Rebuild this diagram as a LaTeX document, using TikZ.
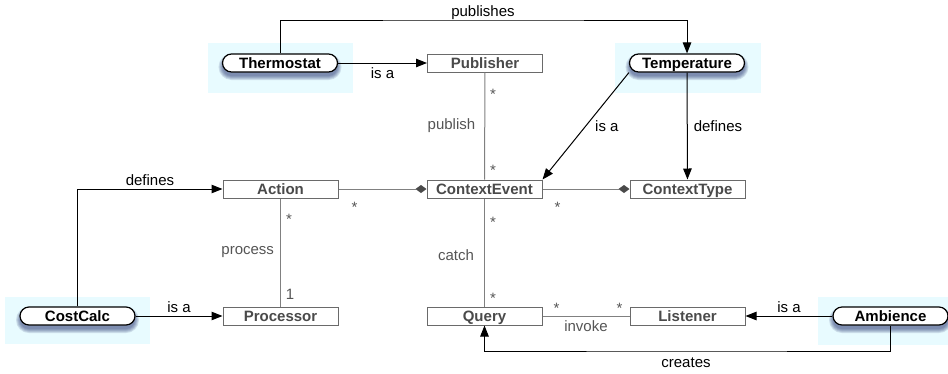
\documentclass[tikz,border=0pt]{standalone}
\usepackage{fontspec}
\setmainfont{Liberation Sans}
\usetikzlibrary{arrows.meta,calc,positioning,shapes.misc}
\definecolor{clsb}{HTML}{6A6A6A}
\definecolor{clst}{HTML}{4A4A4A}
\definecolor{glc}{HTML}{808080}
\definecolor{glt}{HTML}{555555}
\definecolor{dgc}{HTML}{4A4A4A}
\definecolor{hlc}{HTML}{E8FBFF}
\definecolor{shc}{HTML}{22306E}
\newcommand{\pillshade}[1]{%
  \foreach \e in {1,...,5}{%
    \node[rounded rectangle, fill=shc, opacity=0.14, draw=none, inner sep=0pt,
      minimum width={113pt+2*\e pt}, minimum height={16pt+2*\e pt}] at ($(#1)+(0,4)$) {};
  }%
}
\begin{document}
\begin{tikzpicture}[x=1pt,y=-1pt,
  cls/.style={draw=clsb, line width=1pt, fill=white, minimum width=115pt, minimum height=18pt, inner sep=0pt, text height=11pt, text depth=0pt, text=clst, font=\fontsize{15}{18}\selectfont\bfseries},
  pill/.style={draw=black, line width=1.2pt, fill=white, rounded corners=9pt, minimum width=115pt, minimum height=18pt, inner sep=0pt, text height=11pt, text depth=0pt, font=\fontsize{15}{18}\selectfont\bfseries},
  arr/.style={draw=black, line width=1pt, -{Triangle[length=11pt,width=8.5pt]}},
  gline/.style={draw=glc, line width=1pt},
  comp/.style={gline, -{Diamond[length=11pt,width=8pt,color=dgc,fill=dgc]}},
  lbl/.style={font=\fontsize{15}{18}\selectfont, inner sep=0pt},
  glbl/.style={lbl, text=glt},
  mult/.style={font=\fontsize{15}{18}\selectfont, text=glt, inner sep=0pt, yshift=-3.5pt},
  one/.style={font=\fontsize{15}{18}\selectfont, text=glt, inner sep=0pt},
  hl/.style={fill=hlc, draw=none}]
\useasboundingbox (0,0) rectangle (948,373);
% highlight areas
\fill[hl] (208,43) rectangle (353,93);
\fill[hl] (615,43) rectangle (761,93);
\fill[hl] (5,297) rectangle (150,344);
\fill[hl] (818,297) rectangle (948,345);
% class boxes
\node[cls] (Publisher) at (485,63) {Publisher};
\node[cls] (Action) at (280.5,189) {Action};
\node[cls] (ContextEvent) at (484.5,189) {ContextEvent};
\node[cls] (ContextType) at (687.5,189) {ContextType};
\node[cls] (Processor) at (280.5,316) {Processor};
\node[cls] (Query) at (484.5,316) {Query};
\node[cls] (Listener) at (687.5,316) {Listener};
% pill nodes (shadow first)
\coordinate (tc) at (280,63);
\coordinate (tpc) at (687,63);
\coordinate (cc) at (77.5,316);
\coordinate (ac) at (890.5,316);
\pillshade{tc}\pillshade{tpc}\pillshade{cc}\pillshade{ac}
\node[pill] (Thermostat) at (tc) {Thermostat};
\node[pill] (Temperature) at (tpc) {Temperature};
\node[pill] (CostCalc) at (cc) {CostCalc};
\node[pill] (Ambience) at (ac) {Ambience};
% coordinates for bends
\coordinate (pubTop) at (483,20);
\coordinate (crBot) at (686,351);
% black connectors
\draw[arr] (Thermostat.north) |- (pubTop) -| (Temperature.north);
\node[lbl, anchor=base] at ($(pubTop)+(0,-4)$) {publishes};
\draw[arr] (Thermostat) -- node[lbl, below=4pt] {is a} (Publisher);
\draw[arr] (Temperature.south west) -- node[lbl, right=9pt] {is a} (ContextEvent.north east);
\draw[arr] (Temperature) -- node[lbl, right=6pt] {defines} (ContextType);
\draw[arr] (CostCalc.north) |- node[lbl, pos=0.75, above=3pt] {defines} (Action.west);
\draw[arr] (CostCalc) -- node[lbl, above=3pt] {is a} (Processor);
\draw[arr] (Ambience) -- node[lbl, above=3pt] {is a} (Listener);
\draw[arr] (Ambience.south) |- (crBot) -| (Query.south);
\node[lbl, anchor=base] at ($(crBot)+(0,16)$) {creates};
% gray associations
\draw[gline] (Publisher) -- node[glbl, left=9pt] {publish} (ContextEvent);
\draw[comp] (Action) -- (ContextEvent);
\draw[comp] (ContextEvent) -- (ContextType);
\draw[gline] (Action) -- node[glbl, left=6pt] {process} (Processor);
\draw[gline] (ContextEvent) -- node[glbl, left=10pt, yshift=-3pt] {catch} (Query);
\draw[gline] (Query) -- node[glbl, below=4pt] {invoke} (Listener);
% multiplicities
\node[mult] at ($(Publisher.south)+(8,18)$) {*};
\node[mult] at ($(ContextEvent.north)+(8.5,-13)$) {*};
\node[mult] at ($(Action.south east)+(16,5)$) {*};
\node[mult] at ($(ContextEvent.south east)+(15,5)$) {*};
\node[mult] at ($(Action.south)+(8.5,17)$) {*};
\node[one] at ($(Processor.north)+(9.5,-12)$) {1};
\node[mult] at ($(ContextEvent.south)+(8.5,20)$) {*};
\node[mult] at ($(Query.north)+(8.5,-12)$) {*};
\node[mult] at ($(Query.north east)+(14,-2)$) {*};
\node[mult] at ($(Listener.north west)+(-10,-2)$) {*};
\end{tikzpicture}
\end{document}
